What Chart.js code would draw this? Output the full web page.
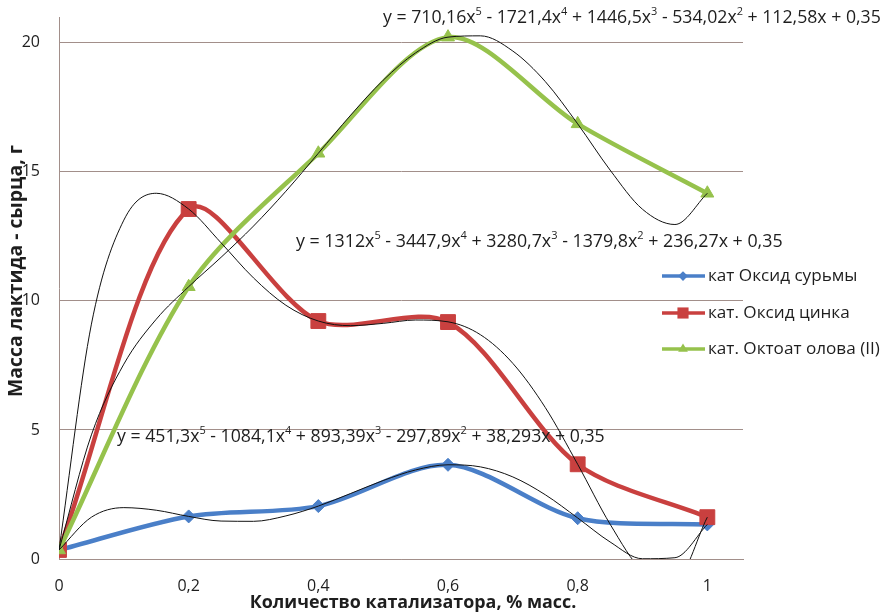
<!DOCTYPE html>
<html><head><meta charset="utf-8">
<script src="https://cdn.jsdelivr.net/npm/chart.js@4"></script>
<style>html,body{margin:0;padding:0;background:#fff}#wrap{width:883px;height:614px;position:relative}</style>
</head><body><div id="wrap"><canvas id="c"></canvas></div>
<script>
// ---- data ----
const categories = [0, 0.2, 0.4, 0.6, 0.8, 1];
const xTickLabels = ['0', '0,2', '0,4', '0,6', '0,8', '1'];
const yTicks = [0, 5, 10, 15, 20];
const seriesNames = ['кат Оксид сурьмы', 'кат. Оксид цинка', 'кат. Октоат олова (II)'];
const antimony = [0.35, 1.65, 2.05, 3.65, 1.58, 1.34];
const zinc = [0.35, 13.56, 9.22, 9.18, 3.67, 1.62];
const tin = [0.35, 10.55, 15.72, 20.22, 16.86, 14.17];
// trendline curves (black thin lines), read at steps of 0.05
const trendX = [0, 0.05, 0.1, 0.15, 0.2, 0.25, 0.3, 0.35, 0.4, 0.45, 0.5, 0.55, 0.6, 0.65, 0.7, 0.75, 0.8, 0.85, 0.9, 0.95, 1];
const trendAntimony = [0.35, 1.62, 1.99, 1.89, 1.65, 1.47, 1.46, 1.67, 2.05, 2.54, 3.04, 3.45, 3.65, 3.57, 3.18, 2.49, 1.59, 0.66, 0.01, 0.05, 1.34];
const trendZinc = [0.35, 9.10, 13.13, 14.17, 13.56, 12.25, 10.89, 9.83, 9.22, 9.04, 9.13, 9.26, 9.19, 8.69, 7.58, 5.87, 3.67, 1.35, -0.46, -0.83, 1.62];
const trendTin = [0.35, 4.81, 7.55, 9.29, 10.55, 11.69, 12.90, 14.25, 15.72, 17.20, 18.55, 19.61, 20.22, 20.27, 19.68, 18.50, 16.86, 15.07, 13.55, 12.96, 14.17];
const equations = [
  'y = 710,16x^5 - 1721,4x^4 + 1446,5x^3 - 534,02x^2 + 112,58x + 0,35',
  'y = 1312x^5 - 3447,9x^4 + 3280,7x^3 - 1379,8x^2 + 236,27x + 0,35',
  'y = 451,3x^5 - 1084,1x^4 + 893,39x^3 - 297,89x^2 + 38,293x + 0,35'
];
const xTitle = 'Количество катализатора, % масс.';
const yTitle = 'Масса лактида - сырца, г';

const colors = ['#4a7fc8', '#c9403f', '#96c24c'];
const styles = ['rectRot', 'rect', 'triangle'];
const radii = [6.5, 10.5, 7.5];
const FONT = '"Open Sans", "DejaVu Sans", sans-serif';
const GRID = '#a28f8a';

function pts(xs, ys) { return xs.map((x, i) => ({ x: x, y: ys[i] })); }

const seriesData = [antimony, zinc, tin];
const datasets = [];
[trendAntimony, trendZinc, trendTin].forEach((t, i) => {
  datasets.push({
    label: 'trend' + i, data: pts(trendX, t), borderColor: '#111', borderWidth: 1,
    pointRadius: 0, cubicInterpolationMode: 'monotone', order: 0, fill: false
  });
});
seriesData.forEach((s, i) => {
  datasets.push({
    label: seriesNames[i], data: pts(categories, s), borderColor: colors[i], backgroundColor: colors[i],
    borderWidth: 4.5, tension: 0.3, pointStyle: styles[i], pointRadius: radii[i],
    pointBackgroundColor: colors[i], pointBorderColor: colors[i], pointBorderWidth: 1,
    order: 3 - i, fill: false
  });
});

function fitFont(ctx, text, weight, targetW) {
  ctx.font = weight + ' 20px ' + FONT;
  const w = ctx.measureText(text).width;
  return 20 * targetW / w;
}

function drawEq(ctx, str, x, yc, targetW) {
  const parts = [];
  let buf = '';
  for (let i = 0; i < str.length; i++) {
    if (str[i] === '^') { parts.push({ t: buf, sup: false }); buf = ''; parts.push({ t: str[i + 1], sup: true }); i++; }
    else buf += str[i];
  }
  if (buf) parts.push({ t: buf, sup: false });
  const measure = (fs) => {
    let w = 0;
    for (const p of parts) { ctx.font = (p.sup ? fs * 0.62 : fs) + 'px ' + FONT; w += ctx.measureText(p.t).width; }
    return w;
  };
  const fs = 16 * targetW / measure(16);
  let cx = x;
  ctx.textAlign = 'left'; ctx.textBaseline = 'middle'; ctx.fillStyle = '#1e1e1e';
  for (const p of parts) {
    ctx.font = (p.sup ? fs * 0.62 : fs) + 'px ' + FONT;
    ctx.fillText(p.t, cx, p.sup ? yc - fs * 0.33 : yc);
    cx += ctx.measureText(p.t).width;
  }
}

function drawMarker(ctx, style, r, x, y, color) {
  ctx.fillStyle = color; ctx.beginPath();
  if (style === 'rectRot') {
    ctx.moveTo(x - r, y); ctx.lineTo(x, y - r); ctx.lineTo(x + r, y); ctx.lineTo(x, y + r);
  } else if (style === 'rect') {
    const s = r * Math.SQRT1_2; ctx.rect(x - s, y - s, 2 * s, 2 * s);
  } else {
    for (let k = 0; k < 3; k++) {
      const a = k * 2 * Math.PI / 3;
      const px = x + Math.sin(a) * r, py = y - Math.cos(a) * r;
      if (k === 0) ctx.moveTo(px, py); else ctx.lineTo(px, py);
    }
  }
  ctx.closePath(); ctx.fill();
}

const overlay = {
  id: 'overlay',
  afterDraw(chart) {
    const ctx = chart.ctx;
    ctx.save();
    // equations
    drawEq(ctx, equations[0], 383, 18, 498);
    drawEq(ctx, equations[1], 296, 242, 487);
    drawEq(ctx, equations[2], 117, 437, 488);
    // legend
    const ly = [276, 313, 349];
    const lfs = fitFont(ctx, seriesNames[2], 'normal', 172);
    for (let i = 0; i < 3; i++) {
      ctx.strokeStyle = colors[i]; ctx.lineWidth = 3.5;
      ctx.beginPath(); ctx.moveTo(662, ly[i]); ctx.lineTo(705, ly[i]); ctx.stroke();
      drawMarker(ctx, styles[i], radii[i] * 0.75, 683, ly[i], colors[i]);
      ctx.font = lfs + 'px ' + FONT; ctx.fillStyle = '#1e1e1e';
      ctx.textAlign = 'left'; ctx.textBaseline = 'middle';
      ctx.fillText(seriesNames[i], 708, ly[i]);
    }
    // axis titles
    const xfs = fitFont(ctx, xTitle, 'bold', 327);
    ctx.font = 'bold ' + xfs + 'px ' + FONT; ctx.fillStyle = '#1e1e1e';
    ctx.textAlign = 'center'; ctx.textBaseline = 'middle';
    ctx.fillText(xTitle, 413, 603);
    const yfs = fitFont(ctx, yTitle, 'bold', 252);
    ctx.translate(16, 271); ctx.rotate(-Math.PI / 2);
    ctx.font = 'bold ' + yfs + 'px ' + FONT;
    ctx.fillText(yTitle, 0, 0);
    ctx.restore();
  }
};

new Chart(document.getElementById('c'), {
  type: 'line',
  data: { datasets: datasets },
  options: {
    responsive: true, maintainAspectRatio: false, animation: false,
    layout: { padding: { left: 0, top: 17, right: 140, bottom: 0 } },
    plugins: { legend: { display: false }, tooltip: { enabled: false } },
    scales: {
      x: {
        type: 'linear', min: 0, max: 1.055,
        afterBuildTicks: (s) => { s.ticks = categories.map(v => ({ value: v })); },
        afterFit: (s) => { s.height = 55; s.paddingLeft = 0; s.paddingRight = 0; },
        ticks: { callback: (v, i) => xTickLabels[i], color: '#1e1e1e', font: { family: FONT, size: 16 }, padding: 18, maxRotation: 0, autoSkip: false },
        grid: { display: false, drawTicks: false },
        border: { display: true, color: GRID, width: 1 }
      },
      y: {
        type: 'linear', min: 0, max: 21,
        afterBuildTicks: (s) => { s.ticks = yTicks.map(v => ({ value: v })); },
        afterFit: (s) => { s.width = 59; s.paddingTop = 0; s.paddingBottom = 0; },
        ticks: { color: '#1e1e1e', font: { family: FONT, size: 16 }, padding: 19 },
        grid: { color: GRID, lineWidth: 1, drawTicks: false },
        border: { display: true, color: GRID, width: 1 }
      }
    }
  },
  plugins: [overlay]
});
</script></body></html>
